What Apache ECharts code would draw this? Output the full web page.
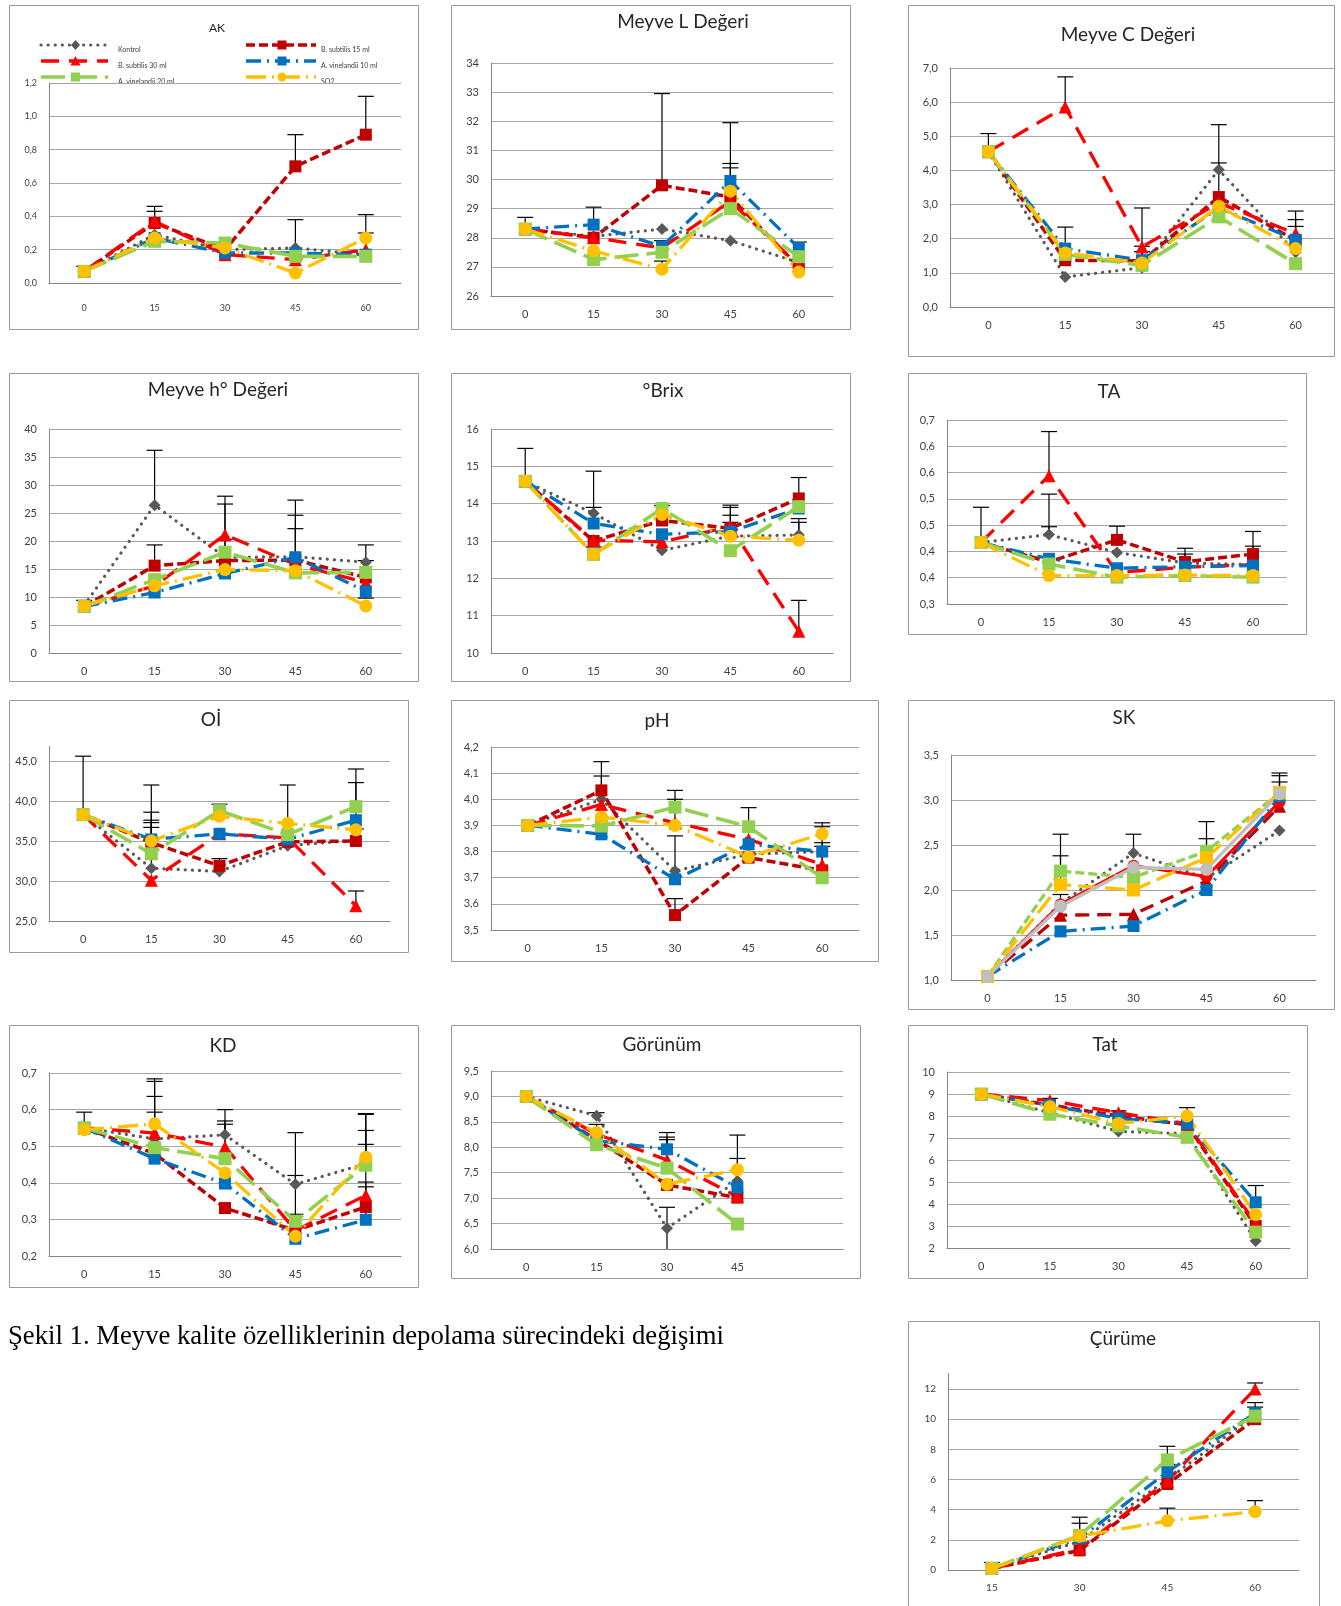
<!DOCTYPE html>
<html><head><meta charset="utf-8">
<script src="https://cdn.jsdelivr.net/npm/echarts@6/dist/echarts.min.js"></script>
<style>html,body{margin:0;padding:0;background:#fff}#c{width:1341px;height:1606px}</style>
</head><body><div id="c"></div>
<script>
// ---------- categories ----------
const days = ['0','15','30','45','60'];
const gorunumDays = ['0','15','30','45',''];
const curumeDays = ['15','30','45','60'];
const legendNames = ['Kontrol','B. subtilis 15 ml','B. subtilis 30 ml','A. vinelandii 10 ml','A. vinelandii 20 ml','SO2'];
const skNames = ['SK Kontrol','SK 2','SK 3','SK 4','SK 5','SK 6','SK 7'];

// ---------- tick labels ----------
const akTicks = ['0,0','0,2','0,4','0,6','0,8','1,0','1,2'];
const lTicks = ['26','27','28','29','30','31','32','33','34'];
const cTicks = ['0,0','1,0','2,0','3,0','4,0','5,0','6,0','7,0'];
const hTicks = ['0','5','10','15','20','25','30','35','40'];
const brixTicks = ['10','11','12','13','14','15','16'];
const taTicks = ['0,3','0,4','0,4','0,5','0,5','0,6','0,6','0,7'];
const oiTicks = ['25,0','30,0','35,0','40,0','45,0'];
const phTicks = ['3,5','3,6','3,7','3,8','3,9','4,0','4,1','4,2'];
const skTicks = ['1,0','1,5','2,0','2,5','3,0','3,5'];
const kdTicks = ['0,2','0,3','0,4','0,5','0,6','0,7'];
const gorTicks = ['6,0','6,5','7,0','7,5','8,0','8,5','9,0','9,5'];
const tatTicks = ['2','3','4','5','6','7','8','9','10'];
const curTicks = ['0','2','4','6','8','10','12'];

// ---------- values (order: Kontrol, B.s.15, B.s.30, A.v.10, A.v.20, SO2) ----------
const akValues = [
  [0.07, 0.29, 0.20, 0.21, 0.17],
  [0.07, 0.36, 0.20, 0.70, 0.89],
  [0.07, 0.37, 0.17, 0.14, 0.20],
  [0.07, 0.27, 0.18, 0.18, 0.17],
  [0.07, 0.25, 0.24, 0.16, 0.16],
  [0.07, 0.27, 0.21, 0.06, 0.27]
];
const akErrors = [[0,0.07,0.10],[1,0.37,0.46],[1,0.36,0.43],[3,0.70,0.89],[3,0.21,0.38],[4,0.89,1.12],[4,0.17,0.41],[4,0.27,0.30]];

const lValues = [
  [28.3, 28.05, 28.3, 27.9, 27.15],
  [28.3, 28.0, 29.8, 29.4, 27.0],
  [28.3, 28.0, 27.65, 29.25, 27.05],
  [28.3, 28.45, 27.7, 29.95, 27.65],
  [28.3, 27.25, 27.5, 29.0, 27.35],
  [28.3, 27.55, 26.92, 29.6, 26.82]
];
const lErrors = [[0,28.3,28.7],[1,28.45,29.05],[2,29.8,32.95],[2,26.92,27.2],[2,27.65,27.9],[3,29.95,31.95],[3,29.6,30.55],[3,29.25,30.4],[4,27.65,27.85]];

const cValues = [
  [4.55, 0.88, 1.15, 4.02, 1.6],
  [4.55, 1.37, 1.35, 3.22, 1.95],
  [4.55, 5.86, 1.76, 3.05, 2.15],
  [4.55, 1.71, 1.37, 2.9, 1.97],
  [4.55, 1.54, 1.22, 2.64, 1.27],
  [4.55, 1.58, 1.29, 2.95, 1.71]
];
const cErrors = [[0,4.55,5.08],[1,5.86,6.74],[1,1.71,2.34],[2,1.76,2.9],[2,1.37,1.78],[2,1.29,1.62],[3,4.02,5.34],[3,3.22,4.22],[4,2.15,2.81],[4,1.97,2.56],[4,1.71,2.36]];

const hValues = [
  [8.5, 26.4, 17.1, 17.2, 16.2],
  [8.3, 15.6, 16.5, 16.6, 13.5],
  [8.3, 12.0, 21.1, 15.8, 12.6],
  [8.3, 10.8, 14.2, 17.1, 11.0],
  [8.3, 13.1, 18.0, 14.3, 14.4],
  [8.4, 12.0, 14.9, 14.7, 8.4]
];
const hErrors = [[0,8.5,9.4],[1,26.4,36.2],[1,15.6,19.3],[2,21.1,28.0],[2,18.0,26.6],[2,16.5,20.3],[3,17.2,27.3],[3,17.1,24.6],[3,15.8,22.2],[4,16.2,19.3],[4,14.4,16.5],[4,11.0,9.8]];

const brixValues = [
  [14.6, 13.74, 12.75, 13.13, 13.16],
  [14.6, 13.0, 13.55, 13.34, 14.14],
  [14.6, 13.02, 12.98, 13.38, 10.58],
  [14.6, 13.47, 13.18, 13.25, 13.87],
  [14.6, 12.64, 13.87, 12.74, 13.92],
  [14.6, 12.64, 13.71, 13.13, 13.02]
];
const brixErrors = [[0,14.6,15.48],[1,13.74,14.87],[1,13.47,13.9],[1,13.0,12.84],[2,13.87,13.95],[3,13.38,13.96],[3,13.34,13.9],[3,13.25,13.69],[3,13.13,13.5],[4,14.14,14.7],[4,13.16,13.6],[4,13.02,13.5],[4,10.58,11.41]];

const taValues = [
  [0.467, 0.482, 0.448, 0.428, 0.425],
  [0.467, 0.43, 0.472, 0.43, 0.445],
  [0.467, 0.594, 0.41, 0.42, 0.425],
  [0.467, 0.436, 0.418, 0.421, 0.423],
  [0.467, 0.426, 0.401, 0.404, 0.401],
  [0.467, 0.404, 0.404, 0.405, 0.404]
];
const taErrors = [[0,0.467,0.534],[1,0.594,0.678],[1,0.482,0.559],[1,0.482,0.497],[2,0.472,0.498],[3,0.43,0.456],[3,0.43,0.445],[4,0.445,0.488],[4,0.445,0.46]];

const oiValues = [
  [38.3, 31.6, 31.2, 34.4, 35.1],
  [38.3, 34.8, 31.9, 34.9, 35.0],
  [38.3, 30.1, 35.9, 35.4, 26.9],
  [38.3, 35.2, 35.9, 35.2, 37.6],
  [38.3, 33.4, 38.8, 35.8, 39.3],
  [38.3, 35.0, 38.1, 37.2, 36.4]
];
const oiErrors = [[0,38.3,45.6],[1,35.2,42.0],[1,35.0,38.6],[1,34.8,37.6],[1,33.4,37.3],[1,31.6,36.7],[2,38.8,39.6],[2,31.9,32.8],[3,37.2,42.0],[4,39.3,44.0],[4,37.6,42.3],[4,26.9,28.75],[4,35.0,36.5]];

const phValues = [
  [3.9, 4.0, 3.726, 3.79, 3.80],
  [3.9, 4.034, 3.557, 3.777, 3.728],
  [3.9, 3.98, 3.91, 3.847, 3.75],
  [3.9, 3.866, 3.694, 3.828, 3.80],
  [3.9, 3.898, 3.97, 3.895, 3.70],
  [3.9, 3.932, 3.90, 3.78, 3.868]
];
const phErrors = [[1,4.034,4.144],[1,3.98,4.089],[2,3.97,4.034],[2,3.91,4.0],[2,3.726,3.86],[2,3.557,3.62],[3,3.895,3.968],[4,3.868,3.91],[4,3.80,3.895],[4,3.75,3.834],[4,3.728,3.82]];

// SK has seven series
const skValues = [
  [1.04, 1.85, 2.41, 2.13, 2.66],
  [1.04, 1.72, 1.73, 2.10, 2.93],
  [1.04, 1.84, 2.27, 2.15, 2.98],
  [1.04, 1.54, 1.60, 2.00, 3.04],
  [1.04, 2.21, 2.14, 2.43, 3.08],
  [1.04, 2.06, 2.00, 2.36, 3.08],
  [1.04, 1.82, 2.25, 2.23, 3.07]
];
const skErrors = [[1,2.21,2.62],[1,2.06,2.38],[1,1.84,1.95],[2,2.41,2.62],[3,2.43,2.76],[3,2.36,2.57],[4,3.08,3.30],[4,3.07,3.27],[4,3.04,3.20]];

const kdValues = [
  [0.55, 0.52, 0.531, 0.396, 0.452],
  [0.55, 0.48, 0.331, 0.27, 0.334],
  [0.55, 0.536, 0.498, 0.27, 0.366],
  [0.55, 0.466, 0.398, 0.247, 0.299],
  [0.55, 0.496, 0.466, 0.295, 0.448],
  [0.545, 0.561, 0.427, 0.254, 0.47]
];
const kdErrors = [[0,0.55,0.593],[1,0.561,0.684],[1,0.536,0.677],[1,0.52,0.636],[1,0.496,0.593],[2,0.531,0.60],[2,0.498,0.569],[2,0.466,0.56],[3,0.396,0.537],[3,0.295,0.42],[3,0.27,0.314],[4,0.47,0.589],[4,0.452,0.587],[4,0.448,0.543],[4,0.366,0.505],[4,0.334,0.402],[4,0.299,0.389]];

const gorValues = [
  [9.0, 8.62, 6.41, 7.34],
  [9.0, 8.15, 7.26, 7.01],
  [9.0, 8.26, 7.75, 7.03],
  [9.0, 8.13, 7.96, 7.21],
  [9.0, 8.05, 7.59, 6.49],
  [9.0, 8.29, 7.275, 7.56]
];
const gorErrors = [[1,8.62,8.68],[1,8.29,8.45],[2,7.96,8.29],[2,7.75,8.2],[2,7.59,8.15],[2,6.41,6.82],[2,6.41,6.0,0],[3,7.56,8.24],[3,7.34,7.78]];

const tatValues = [
  [9, 8.15, 7.3, 7.2, 2.32],
  [9, 8.5, 8.0, 7.6, 3.0],
  [9, 8.7, 8.15, 7.65, 3.1],
  [9, 8.49, 7.89, 7.66, 4.08],
  [9, 8.08, 7.55, 7.03, 2.72],
  [9, 8.42, 7.66, 8.0, 3.52]
];
const tatErrors = [[1,8.7,8.8],[2,8.15,8.23],[3,8.0,8.38],[4,4.08,4.84]];

const curValues = [
  [0.1, 1.9, 6.0, 10.3],
  [0.1, 1.3, 5.7, 10.0],
  [0.1, 1.4, 5.9, 12.0],
  [0.1, 2.1, 6.5, 10.4],
  [0.1, 2.3, 7.3, 10.2],
  [0.1, 2.24, 3.26, 3.87]
];
const curErrors = [[0,0.1,0.5],[1,2.3,3.5],[1,2.24,3.1],[2,7.3,8.2],[2,6.5,7.0],[2,3.26,4.1],[3,12.0,12.4],[3,10.4,11.1],[3,10.3,10.8],[3,3.87,4.6]];

const caption = 'Şekil 1. Meyve kalite özelliklerinin depolama sürecindeki değişimi';

// ---------- styles ----------
const FONT = 'Lato, "Liberation Sans", sans-serif';
const STD = [
  {color:'#595959', type:[0.1,7], cap:'round', symbol:'diamond', size:12, width:3.2},
  {color:'#C00000', type:[9,4], symbol:'rect', size:12, width:3.5},
  {color:'#FF0000', type:[18,10], symbol:'triangle', size:13, width:3.3},
  {color:'#0070C0', type:[15,6,2,6], symbol:'rect', size:12, width:3.3},
  {color:'#92D050', type:[24,8], symbol:'rect', size:13, width:3.6},
  {color:'#FFC000', type:[20,6,2,6], symbol:'circle', size:13, width:3.3}
];
const SKSTY = [
  {color:'#595959', type:[0.1,7], cap:'round', symbol:'diamond', size:12, width:3.2},
  {color:'#C00000', type:[14,8], symbol:'triangle', size:13, width:3.3},
  {color:'#FF0000', type:'solid', symbol:'circle', size:12, width:3},
  {color:'#0070C0', type:[15,6,2,6], symbol:'rect', size:12, width:3.3},
  {color:'#92D050', type:[9,4], symbol:'rect', size:13, width:3.3},
  {color:'#FFC000', type:[20,7], symbol:'rect', size:13, width:3.3},
  {color:'#BFBFBF', type:'solid', symbol:'circle', size:13, width:3.3}
];

const panels = [
  {title:'AK', tsize:12, tpos:[217,28], grid:[49,83,352,200], rect:[9,5,409,324], cats:days, min:0, max:1.2, int:0.2, ticks:akTicks, vals:akValues, errs:akErrors, fs:9, xm:21},
  {title:'Meyve L Değeri', tsize:19, tpos:[683,22], grid:[491,63,342,233], rect:[451,5,399,324], cats:days, min:26, max:34, int:1, ticks:lTicks, vals:lValues, errs:lErrors, fs:11},
  {title:'Meyve C Değeri', tsize:19, tpos:[1128,35], grid:[950,68,384,239], rect:[908,5,426,351], cats:days, min:0, max:7, int:1, ticks:cTicks, vals:cValues, errs:cErrors, fs:11},
  {title:'Meyve h° Değeri', tsize:19, tpos:[218,390], grid:[49,429,352,224], rect:[9,373,409,308], cats:days, min:0, max:40, int:5, ticks:hTicks, vals:hValues, errs:hErrors, fs:11},
  {title:'°Brix', tsize:19, tpos:[663,391], grid:[491,429,342,224], rect:[451,373,399,308], cats:days, min:10, max:16, int:1, ticks:brixTicks, vals:brixValues, errs:brixErrors, fs:11},
  {title:'TA', tsize:19, tpos:[1109,392], grid:[947,420,340,184], rect:[908,373,398,261], cats:days, min:0.35, max:0.7, int:0.05, ticks:taTicks, vals:taValues, errs:taErrors, fs:11},
  {title:'Oİ', tsize:19, tpos:[211,720], grid:[49,761,341,160], rect:[9,700,399,252], cats:days, min:25, max:45, int:5, ticks:oiTicks, vals:oiValues, errs:oiErrors, fs:11, stub:15},
  {title:'pH', tsize:19, tpos:[657,721], grid:[491,747,368,183], rect:[451,700,427,261], cats:days, min:3.5, max:4.2, int:0.1, ticks:phTicks, vals:phValues, errs:phErrors, fs:11},
  {title:'SK', tsize:19, tpos:[1124,718], grid:[951,755,365,225], rect:[908,700,426,309], cats:days, min:1, max:3.5, int:0.5, ticks:skTicks, vals:skValues, errs:skErrors, fs:11, sty:SKSTY, names:skNames},
  {title:'KD', tsize:19, tpos:[223,1046], grid:[49,1073,352,183], rect:[9,1025,409,262], cats:days, min:0.2, max:0.7, int:0.1, ticks:kdTicks, vals:kdValues, errs:kdErrors, fs:11},
  {title:'Görünüm', tsize:19, tpos:[662,1045], grid:[491,1071,352,178], rect:[451,1025,409,253], cats:gorunumDays, min:6, max:9.5, int:0.5, ticks:gorTicks, vals:gorValues, errs:gorErrors, fs:11},
  {title:'Tat', tsize:19, tpos:[1105,1045], grid:[947,1072,343,176], rect:[908,1025,399,253], cats:days, min:2, max:10, int:1, ticks:tatTicks, vals:tatValues, errs:tatErrors, fs:11},
  {title:'Çürüme', tsize:19, tpos:[1123,1339], grid:[948,1389,351,181], rect:[908,1321,411,300], cats:curumeDays, min:0, max:12, int:2, ticks:curTicks, vals:curValues, errs:curErrors, fs:10, stub:16}
];

function errRender(params, api){
  const x = api.value(0), a = api.value(1), b = api.value(2), cap = api.value(3);
  const p1 = api.coord([x, a]), p2 = api.coord([x, b]);
  const st = {stroke:'#000', lineWidth:1.2};
  const ch = [{type:'line', shape:{x1:p1[0], y1:p1[1], x2:p2[0], y2:p2[1]}, style:st}];
  if (cap !== 0) ch.push({type:'line', shape:{x1:p2[0]-8, y1:p2[1], x2:p2[0]+8, y2:p2[1]}, style:st});
  return {type:'group', children:ch};
}

const grid = [], xAxis = [], yAxis = [], series = [], graphic = [];
panels.forEach((p, i) => {
  grid.push({left:p.grid[0], top:p.grid[1], width:p.grid[2], height:p.grid[3], containLabel:false, outerBoundsMode:'none'});
  xAxis.push({type:'category', gridIndex:i, data:p.cats, boundaryGap:true,
    axisTick:{show:false}, axisLine:{lineStyle:{color:'#868686', width:1}},
    axisLabel:{fontSize:p.fs, color:'#404040', fontFamily:FONT, margin:p.xm || 13}, splitLine:{show:false}});
  const ticks = p.ticks, mn = p.min, iv = p.int;
  yAxis.push({type:'value', gridIndex:i, min:p.min, max:p.max, interval:p.int,
    axisLine:{show:true, lineStyle:{color:'#868686', width:1}}, axisTick:{show:false},
    splitLine:{lineStyle:{color:'#A6A6A6', width:1}},
    axisLabel:{fontSize:p.fs, color:'#404040', fontFamily:FONT, margin:12,
      formatter: v => { const k = Math.round((v - mn) / iv); return ticks[k] !== undefined ? ticks[k] : ''; }}});
  series.push({type:'custom', xAxisIndex:i, yAxisIndex:i, renderItem:errRender, z:2, silent:true,
    encode:{x:0, y:[1,2]}, clip:false,
    data:p.errs.map(e => [e[0], e[1], e[2], e.length > 3 ? e[3] : 1])});
  const sty = p.sty || STD, names = p.names || legendNames;
  p.vals.forEach((vals, j) => {
    const s = sty[j];
    series.push({type:'line', name:names[j], xAxisIndex:i, yAxisIndex:i, data:vals,
      symbol:s.symbol, symbolSize:s.size, showSymbol:true, z:2,
      itemStyle:{color:s.color},
      lineStyle:{color:s.color, width:s.width, type:s.type, cap:s.cap || 'butt'}});
  });
  graphic.push({type:'rect', shape:{x:p.rect[0]+0.5, y:p.rect[1]+0.5, width:p.rect[2], height:p.rect[3]},
    style:{fill:'none', stroke:'#9A9A9A', lineWidth:1}, silent:true});
  graphic.push({type:'text', x:p.tpos[0], y:p.tpos[1],
    style:{text:p.title, font:'normal ' + p.tsize + 'px ' + FONT, fill:'#262626', textAlign:'center', textVerticalAlign:'middle'}});
  if (p.stub) {
    graphic.push({type:'line', shape:{x1:p.grid[0]+0.5, y1:p.grid[1]-p.stub, x2:p.grid[0]+0.5, y2:p.grid[1]},
      style:{stroke:'#868686', lineWidth:1}, silent:true});
  }
});
graphic.push({type:'text', x:8, y:1337,
  style:{text:caption, font:'26.7px "Liberation Serif", "Times New Roman", serif', fill:'#000', textVerticalAlign:'middle'}});

// ---------- AK legend (drawn as graphics) ----------
const legPos = [[41,45,67,118],[246,45,70,321],[41,61,67,118],[246,61,70,321],[41,77,67,118],[246,77,70,321]];
function legendSymbol(sym, cx, cy, color){
  const r = 4.5;
  if (sym === 'rect') return {type:'rect', shape:{x:cx-r, y:cy-r, width:2*r, height:2*r}, style:{fill:color}};
  if (sym === 'circle') return {type:'circle', shape:{cx:cx, cy:cy, r:r}, style:{fill:color}};
  if (sym === 'diamond') return {type:'polygon', shape:{points:[[cx,cy-r-0.5],[cx+r,cy],[cx,cy+r+0.5],[cx-r,cy]]}, style:{fill:color}};
  return {type:'polygon', shape:{points:[[cx,cy-r-0.5],[cx+r+0.5,cy+r],[cx-r-0.5,cy+r]]}, style:{fill:color}};
}
legendNames.forEach((n, k) => {
  const s = STD[k], lp = legPos[k];
  const x0 = lp[0], y = lp[1], w = lp[2];
  graphic.push({type:'line', silent:true, shape:{x1:x0, y1:y, x2:x0+w, y2:y},
    style:{stroke:s.color, lineWidth:s.width, lineDash:s.type, lineCap:s.cap || 'butt'}});
  graphic.push(Object.assign(legendSymbol(s.symbol, x0 + w/2 + 1, y, s.color), {silent:true}));
  graphic.push({type:'text', x:lp[3], y:y+5, silent:true,
    style:{text:n, font:'7px ' + FONT, fill:'#404040', textVerticalAlign:'middle'}});
});

const chart = echarts.init(document.getElementById('c'), null, {renderer:'canvas'});
chart.setOption({animation:false, backgroundColor:'#fff', grid, xAxis, yAxis, series, graphic});
</script></body></html>
